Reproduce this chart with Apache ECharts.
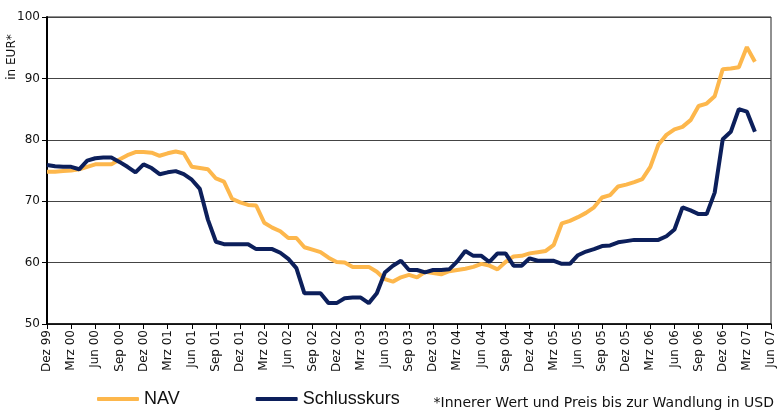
<!DOCTYPE html>
<html>
<head>
<meta charset="utf-8">
<script src="https://cdn.jsdelivr.net/npm/echarts@6/dist/echarts.min.js"></script>
<style>
  html, body { margin: 0; padding: 0; background: #fff; }
  #chart { width: 777px; height: 410px; }
</style>
</head>
<body>
<div id="chart"></div>
<script>
// Monatsnamen fuer die Achse (Dez 99 bis Jun 07)
const monthNames = ['Jan', 'Feb', 'Mrz', 'Apr', 'Mai', 'Jun', 'Jul', 'Aug', 'Sep', 'Okt', 'Nov', 'Dez'];
const startYear = 1999;
const startMonth = 11;   // Dez
const monthCount = 91;   // bis Jun 07

// NAV (orange)
const navValues = [
  74.8, 74.8, 74.9, 75.0, 75.2, 75.6, 76.0, 76.0, 76.0, 76.8,
  77.5, 78.0, 78.0, 77.9, 77.4, 77.8, 78.1, 77.8, 75.6, 75.4,
  75.2, 73.7, 73.2, 70.4, 69.8, 69.4, 69.3, 66.5, 65.7, 65.1,
  64.0, 64.0, 62.5, 62.1, 61.7, 60.8, 60.1, 60.0, 59.3, 59.3,
  59.3, 58.5, 57.3, 56.9, 57.6, 58.0, 57.6, 58.5, 58.3, 58.1,
  58.6, 58.8, 59.0, 59.3, 59.8, 59.5, 58.9, 60.1, 61.0, 61.1,
  61.5, 61.7, 61.9, 62.9, 66.4, 66.8, 67.4, 68.1, 69.0, 70.6,
  71.0, 72.4, 72.7, 73.1, 73.6, 75.6, 79.2, 80.8, 81.7, 82.1,
  83.2, 85.5, 85.9, 87.1, 91.5, 91.6, 91.8, 95.1, 92.7
];

// Schlusskurs (dunkelblau)
const closeValues = [
  75.9, 75.7, 75.6, 75.6, 75.2, 76.6, 77.0, 77.1, 77.1, 76.4,
  75.6, 74.7, 76.0, 75.4, 74.4, 74.7, 74.9, 74.4, 73.5, 72.0,
  67.0, 63.4, 63.0, 63.0, 63.0, 63.0, 62.2, 62.2, 62.2, 61.6,
  60.6, 59.1, 55.0, 55.0, 55.0, 53.4, 53.4, 54.2, 54.3, 54.3,
  53.4, 55.0, 58.4, 59.5, 60.3, 58.8, 58.8, 58.4, 58.8, 58.8,
  58.9, 60.2, 61.9, 61.1, 61.1, 60.1, 61.5, 61.5, 59.5, 59.5,
  60.7, 60.3, 60.3, 60.3, 59.8, 59.8, 61.2, 61.8, 62.2, 62.7,
  62.8, 63.3, 63.5, 63.7, 63.7, 63.7, 63.7, 64.3, 65.4, 69.0,
  68.5, 67.9, 67.9, 71.4, 80.1, 81.3, 85.0, 84.6, 81.3
];

const yTicks = [50, 60, 70, 80, 90, 100];

// Kategorien "Dez 99", "Jan 00", ...
const categories = [];
for (let i = 0; i < monthCount; i++) {
  const m = (startMonth + i) % 12;
  const y = startYear + Math.floor((startMonth + i) / 12);
  categories.push(monthNames[m] + ' ' + String(y % 100).padStart(2, '0'));
}

const chart = echarts.init(document.getElementById('chart'));
const option = {
  animation: false,
  textStyle: { fontFamily: 'DejaVu Sans' },
  grid: { left: 47, right: 6, top: 17, bottom: 86, show: true, borderColor: '#222', borderWidth: 1 },
  legend: {
    left: 92,
    top: 385,
    itemWidth: 42,
    itemHeight: 4,
    itemGap: 76,
    icon: 'roundRect',
    textStyle: { fontFamily: 'Liberation Sans', fontSize: 18, color: '#111' },
    data: ['NAV', 'Schlusskurs']
  },
  xAxis: {
    type: 'category',
    data: categories,
    boundaryGap: false,
    axisLine: { lineStyle: { color: '#000', width: 1.5 } },
    axisTick: { interval: 2, length: 5, lineStyle: { color: '#000' } },
    axisLabel: { interval: 2, rotate: 90, fontSize: 12, color: '#111', margin: 6 },
    splitLine: { show: false }
  },
  yAxis: {
    type: 'value',
    min: yTicks[0],
    max: yTicks[yTicks.length - 1],
    interval: 10,
    axisLine: { show: true, lineStyle: { color: '#000', width: 2 } },
    axisTick: { show: true, length: 5, lineStyle: { color: '#000' } },
    axisLabel: { fontSize: 12, color: '#111', margin: 7 },
    splitLine: { lineStyle: { color: '#444', width: 1 } }
  },
  graphic: [
    {
      type: 'text',
      x: 12, y: 57,
      rotation: Math.PI / 2,
      style: { text: 'in EUR*', fontFamily: 'DejaVu Sans', fontSize: 12, fill: '#111', align: 'center', verticalAlign: 'middle' }
    },
    {
      type: 'text',
      right: 3, top: 396,
      style: { text: '*Innerer Wert und Preis bis zur Wandlung in USD', fontFamily: 'DejaVu Sans', fontSize: 14, fill: '#111' }
    }
  ],
  series: [
    {
      name: 'NAV',
      type: 'line',
      data: navValues,
      symbol: 'none',
      lineStyle: { color: '#FDB74C', width: 4 },
      itemStyle: { color: '#FDB74C' }
    },
    {
      name: 'Schlusskurs',
      type: 'line',
      data: closeValues,
      symbol: 'none',
      lineStyle: { color: '#0C1F5B', width: 4 },
      itemStyle: { color: '#0C1F5B' }
    }
  ]
};
chart.setOption(option);
</script>
</body>
</html>
